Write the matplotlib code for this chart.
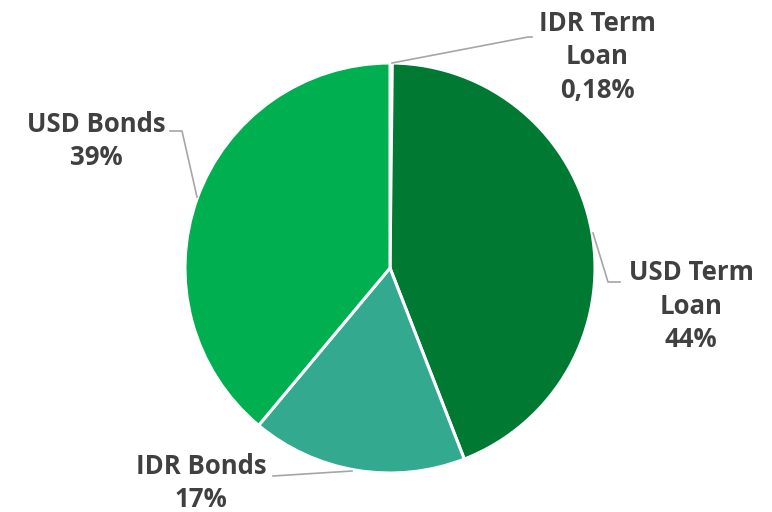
import matplotlib.pyplot as plt

labels = ["IDR Term\nLoan", "USD Term\nLoan", "IDR Bonds", "USD Bonds"]
shares = [0.18, 44, 17, 39]
share_text = ["0,18%", "44%", "17%", "39%"]
colors = ["#C9E9CF", "#007A33", "#33AA8F", "#00AF50"]

plt.rcParams['font.family'] = ['Open Sans', 'DejaVu Sans']

fig = plt.figure(figsize=(7.72, 5.12), dpi=100)
ax = fig.add_axes([0, 0, 1, 1])

cx, cy, r = 390, 244, 205
ax.pie(shares, colors=colors, startangle=90, counterclock=False,
       center=(cx, cy), radius=r, frame=True,
       wedgeprops=dict(edgecolor='white', linewidth=2.2))
ax.set_xlim(0, 772)
ax.set_ylim(0, 512)
ax.set_aspect('equal')
ax.axis('off')

# label text position and leader-line path (top-left origin, pixels)
layout = [
    ((597, 57), [(392, 63), (528, 37), (532, 37)]),
    ((691, 306), [(593, 233), (608, 282), (620, 282)]),
    ((201, 483), [(352, 471), (273, 476)]),
    ((96, 141), [(197, 197), (182, 131), (170, 131)]),
]

for lab, pct, (pos, path) in zip(labels, share_text, layout):
    xs = [p[0] for p in path]
    ys = [512 - p[1] for p in path]
    ax.plot(xs, ys, color='#A6A6A6', lw=1.2)
    ax.text(pos[0], 512 - pos[1], f"{lab}\n{pct}", ha='center', va='center',
            fontsize=18.5, fontweight='bold', color='#404040', linespacing=1.3)

fig.savefig("out.png", dpi=100)
